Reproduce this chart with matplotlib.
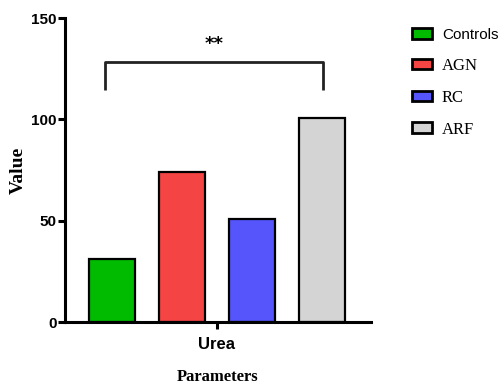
import matplotlib
matplotlib.use("Agg")
import matplotlib.pyplot as plt
from matplotlib.patches import Patch
from matplotlib import font_manager as fm

groups = ["Controls", "AGN", "RC", "ARF"]
values = [31.2, 73.8, 50.7, 100.6]
colors = ["#00BB00", "#F54444", "#5555FB", "#D4D4D4"]
category = "Urea"
yticks = [0, 50, 100, 150]
sig_label = "**"
bracket_low, bracket_high = 114.5, 128.4

names = {f.name for f in fm.fontManager.ttflist}
narrow = "Liberation Sans Narrow" if "Liberation Sans Narrow" in names else "Liberation Sans"

fig = plt.figure(figsize=(5.03, 3.87), dpi=100)
ax = fig.add_axes([65/503, 1-322/387, (371-65)/503, (322-18)/387])

x = list(range(len(groups)))
ax.bar(x, values, width=0.66, color=colors, edgecolor="black", linewidth=1.6, zorder=2)

ax.set_xlim(-0.671, 3.7)
ax.set_ylim(0, 150)
ax.spines["top"].set_visible(False)
ax.spines["right"].set_visible(False)
for s in ("left", "bottom"):
    ax.spines[s].set_linewidth(2.2)
ax.set_yticks(yticks)
ax.set_yticklabels([str(v) for v in yticks], fontfamily=narrow, fontweight="bold", fontsize=11)
ax.set_xticks([1.5])
ax.set_xticklabels([category], fontfamily=narrow, fontweight="bold", fontsize=12)
ax.tick_params(axis="both", width=2.2, length=5, direction="out")
ax.tick_params(axis="x", pad=6)
ax.tick_params(axis="y", pad=1)

ax.set_ylabel("Value", fontfamily="Liberation Serif", fontweight="bold", fontsize=14, labelpad=3)
ax.set_xlabel("Parameters", fontfamily="Liberation Serif", fontweight="bold", fontsize=12, labelpad=12)

# significance bracket
ax.plot([-0.1, -0.1, 3.01, 3.01], [bracket_low, bracket_high, bracket_high, bracket_low],
        color="#222222", linewidth=2.0, solid_capstyle="butt", clip_on=False)
ax.text(1.46, 132.5, sig_label, ha="center", va="bottom", fontsize=13, fontweight="bold",
        fontfamily="DejaVu Sans")

handles = [Patch(facecolor=c, edgecolor="black", linewidth=2.0) for c in colors]
leg = fig.legend(handles, groups, loc="upper left", bbox_to_anchor=(412/503, 1-28/387),
                 frameon=False, handlelength=1.2, handleheight=0.6, handletextpad=0.6,
                 labelspacing=0.95, fontsize=12, borderaxespad=0, borderpad=0)
for i, t in enumerate(leg.get_texts()):
    if i == 0:
        t.set_fontfamily(narrow)
        t.set_fontsize(11)
    else:
        t.set_fontfamily("Liberation Serif")

fig.savefig("out.png", dpi=100)
